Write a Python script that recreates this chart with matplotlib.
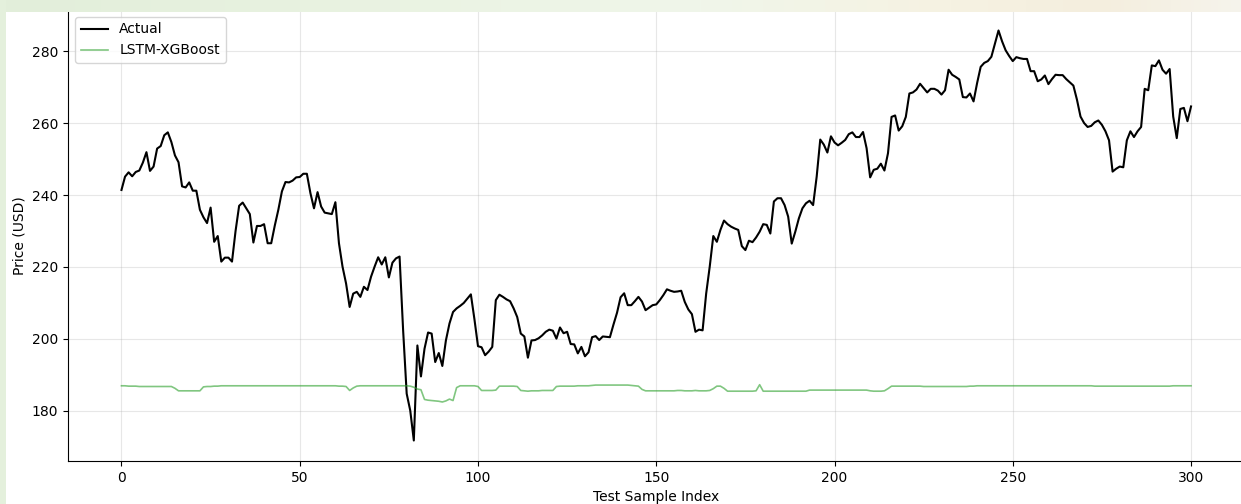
import numpy as np
import matplotlib
matplotlib.use("Agg")
from matplotlib import pyplot as plt

# Closing prices over the test window, one value per sample
actual = [
    241.4, 245.1, 246.3, 245.2, 246.4, 246.8, 249.0, 251.9, 246.7, 247.9,
    252.9, 253.6, 256.6, 257.4, 254.7, 251.0, 249.1, 242.4, 242.1, 243.5,
    241.2, 241.2, 235.9, 233.8, 232.2, 236.5, 227.0, 228.6, 221.5, 222.6,
    222.6, 221.5, 230.0, 237.0, 237.9, 236.3, 234.7, 226.8, 231.4, 231.4,
    231.9, 226.6, 226.6, 231.5, 235.9, 241.0, 243.6, 243.5, 244.0, 244.9,
    245.0, 245.9, 245.9, 240.5, 236.3, 240.8, 236.8, 235.1, 234.9, 234.7,
    238.0, 226.6, 220.1, 215.4, 208.9, 212.6, 213.1, 211.7, 214.5, 213.6,
    217.3, 220.1, 222.7, 220.7, 222.7, 217.1, 221.2, 222.4, 222.9, 202.4,
    184.8, 180.1, 171.8, 198.2, 189.6, 197.3, 201.8, 201.5, 193.6, 196.1,
    192.5, 199.6, 204.3, 207.5, 208.5, 209.2, 210.0, 211.2, 212.4, 205.5,
    198.0, 197.7, 195.5, 196.5, 197.8, 210.8, 212.3, 211.7, 211.0, 210.5,
    208.5, 206.1, 201.5, 200.7, 194.8, 199.6, 199.7, 200.2, 201.0, 202.0,
    202.6, 202.3, 200.1, 203.2, 201.6, 202.0, 198.6, 198.5, 196.0, 197.8,
    195.2, 196.3, 200.5, 200.8, 199.7, 200.7, 200.6, 200.5, 204.0, 207.3,
    211.6, 212.7, 209.4, 209.4, 210.5, 211.7, 210.4, 208.0, 208.7, 209.4,
    209.6, 210.8, 212.2, 213.8, 213.4, 213.1, 213.2, 213.4, 210.3, 208.2,
    206.9, 202.0, 202.6, 202.4, 212.6, 220.1, 228.6, 227.0, 230.3, 232.9,
    231.9, 231.2, 230.7, 230.3, 225.8, 224.7, 227.3, 226.9, 228.2, 229.8,
    231.9, 231.7, 229.3, 238.2, 239.1, 239.1, 237.2, 234.0, 226.5, 229.8,
    233.5, 236.3, 237.7, 238.4, 237.2, 245.1, 255.4, 254.0, 251.8, 256.3,
    254.6, 253.8, 254.5, 255.3, 256.9, 257.4, 256.1, 256.1, 257.5, 253.0,
    244.9, 247.0, 247.3, 248.7, 246.8, 251.6, 261.7, 262.1, 257.9, 259.1,
    261.7, 268.2, 268.5, 269.3, 270.9, 269.7, 268.5, 269.5, 269.5, 269.0,
    267.9, 269.1, 274.8, 273.4, 272.8, 272.1, 267.2, 267.1, 268.2, 266.0,
    271.1, 275.6, 276.7, 277.2, 278.4, 282.1, 285.7, 282.7, 280.2, 278.6,
    277.2, 278.3, 278.0, 277.8, 277.8, 274.4, 274.4, 271.6, 272.1, 273.2,
    270.8, 272.2, 273.4, 273.3, 273.3, 272.2, 271.3, 270.4, 266.5, 261.8,
    260.0, 258.9, 259.2, 260.2, 260.7, 259.5, 257.7, 255.2, 246.5, 247.3,
    247.9, 247.7, 255.2, 257.7, 256.1, 257.7, 258.9, 269.5, 269.1, 276.0,
    275.8, 277.4, 274.8, 273.7, 275.0, 261.8, 255.8, 263.9, 264.2, 260.5,
    264.6,
]

# Hybrid model output for the same samples
lstm_xgb = [
    187.0, 187.0, 186.9, 186.9, 186.9, 186.8, 186.8, 186.8, 186.8, 186.8,
    186.8, 186.8, 186.8, 186.8, 186.8, 186.3, 185.6, 185.6, 185.6, 185.6,
    185.6, 185.6, 185.6, 186.7, 186.8, 186.8, 186.9, 186.9, 187.0, 187.0,
    187.0, 187.0, 187.0, 187.0, 187.0, 187.0, 187.0, 187.0, 187.0, 187.0,
    187.0, 187.0, 187.0, 187.0, 187.0, 187.0, 187.0, 187.0, 187.0, 187.0,
    187.0, 187.0, 187.0, 187.0, 187.0, 187.0, 187.0, 187.0, 187.0, 187.0,
    187.0, 186.9, 186.9, 186.8, 185.7, 186.4, 186.9, 187.0, 187.0, 187.0,
    187.0, 187.0, 187.0, 187.0, 187.0, 187.0, 187.0, 187.0, 187.0, 187.0,
    187.0, 186.9, 186.6, 186.1, 185.9, 183.2, 183.0, 182.9, 182.8, 182.7,
    182.5, 182.8, 183.3, 182.9, 186.5, 187.0, 187.0, 187.0, 187.0, 187.0,
    186.8, 185.7, 185.7, 185.7, 185.7, 185.8, 186.9, 186.9, 186.9, 186.9,
    186.9, 186.8, 185.7, 185.6, 185.5, 185.6, 185.6, 185.6, 185.7, 185.7,
    185.7, 185.7, 186.8, 186.9, 186.9, 186.9, 186.9, 186.9, 187.0, 187.0,
    187.0, 187.0, 187.1, 187.2, 187.2, 187.2, 187.2, 187.2, 187.2, 187.2,
    187.2, 187.2, 187.2, 187.1, 187.0, 186.9, 186.0, 185.6, 185.6, 185.6,
    185.6, 185.6, 185.6, 185.6, 185.6, 185.6, 185.7, 185.7, 185.6, 185.6,
    185.6, 185.7, 185.6, 185.6, 185.6, 185.7, 186.2, 186.9, 186.9, 186.3,
    185.5, 185.5, 185.5, 185.5, 185.5, 185.5, 185.5, 185.5, 185.6, 187.3,
    185.5, 185.5, 185.5, 185.5, 185.5, 185.5, 185.5, 185.5, 185.5, 185.5,
    185.5, 185.5, 185.5, 185.8, 185.8, 185.8, 185.8, 185.8, 185.8, 185.8,
    185.8, 185.8, 185.8, 185.8, 185.8, 185.8, 185.8, 185.8, 185.8, 185.8,
    185.6, 185.5, 185.5, 185.5, 185.6, 186.2, 186.9, 186.9, 186.9, 186.9,
    186.9, 186.9, 186.9, 186.9, 186.9, 186.8, 186.8, 186.8, 186.8, 186.8,
    186.8, 186.8, 186.8, 186.8, 186.8, 186.8, 186.8, 186.8, 186.9, 186.9,
    187.0, 187.0, 187.0, 187.0, 187.0, 187.0, 187.0, 187.0, 187.0, 187.0,
    187.0, 187.0, 187.0, 187.0, 187.0, 187.0, 187.0, 187.0, 187.0, 187.0,
    187.0, 187.0, 187.0, 187.0, 187.0, 187.0, 187.0, 187.0, 187.0, 187.0,
    187.0, 187.0, 187.0, 186.9, 186.9, 186.9, 186.9, 186.9, 186.9, 186.9,
    186.9, 186.9, 186.9, 186.9, 186.9, 186.9, 186.9, 186.9, 186.9, 186.9,
    186.9, 186.9, 186.9, 186.9, 186.9, 187.0, 187.0, 187.0, 187.0, 187.0,
    187.0,
]

sample_idx = np.arange(len(actual))

W, H = 1241, 504
fig = plt.figure(figsize=(W / 100, H / 100), dpi=100)
fig.patch.set_facecolor("white")

# pale page tint showing round the top and left edges
stops_x = [0, 300, 700, 950, 1100, 1241]
stops_c = np.array([[226, 238, 218], [232, 242, 224], [240, 246, 234],
                    [246, 242, 226], [244, 238, 222], [246, 244, 236]]) / 255
xs = np.arange(W)
band = np.stack([np.interp(xs, stops_x, stops_c[:, k]) for k in range(3)], axis=-1)
fig.figimage(np.repeat(band[None, :, :], 12, axis=0), xo=0, yo=H - 12)
side = np.tile(np.array([228, 240, 220]) / 255, (H, 6, 1))
fig.figimage(side, xo=0, yo=0)

ax = fig.add_axes([68 / W, 43 / H, 1176.5 / W, 451 / H])

ax.plot(sample_idx, actual, color="black", lw=1.5, label="Actual")
ax.plot(sample_idx, lstm_xgb, color="#2ca02c", lw=1.2, alpha=0.6,
        label="LSTM-XGBoost")

ax.set_xlabel("Test Sample Index", fontsize=10)
ax.set_ylabel("Price (USD)", fontsize=10)
ax.grid(True, alpha=0.3)
ax.spines["top"].set_visible(False)
ax.spines["right"].set_visible(False)
ax.legend(loc="upper left", fontsize=10)

fig.savefig("out.png", dpi=100)
